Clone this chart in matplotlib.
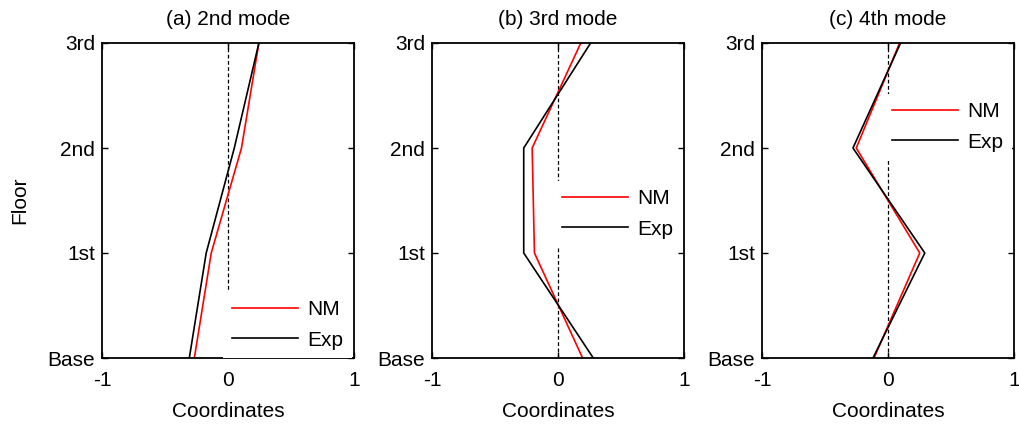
import matplotlib.pyplot as plt

plt.rcParams["font.family"] = ["Liberation Sans", "DejaVu Sans"]
plt.rcParams["font.size"] = 15

floors = [0, 1, 2, 3]
floor_labels = ["Base", "1st", "2nd", "3rd"]
titles = ["(a) 2nd mode", "(b) 3rd mode", "(c) 4th mode"]

# mode shape coordinates, Base -> 3rd
nm_2nd = [-0.267, -0.133, 0.107, 0.245]
exp_2nd = [-0.307, -0.173, 0.05, 0.245]
nm_3rd = [0.195, -0.187, -0.205, 0.181]
exp_3rd = [0.28, -0.272, -0.272, 0.259]
nm_4th = [-0.111, 0.252, -0.252, 0.092]
exp_4th = [-0.119, 0.292, -0.278, 0.1]

# legend anchor (lower right corner) in axes fraction
legend_anchor = [(0.992, 0.0), (0.992, 0.352), (0.992, 0.629)]

fig = plt.figure(figsize=(10.19, 4.26), dpi=100)
lefts = [102, 432, 762]
axes = [fig.add_axes([l / 1019, 1 - 358 / 426, 252 / 1019, 315 / 426]) for l in lefts]

data = [(nm_2nd, exp_2nd), (nm_3rd, exp_3rd), (nm_4th, exp_4th)]
for i, ax in enumerate(axes):
    nm, exp = data[i]
    ax.plot([0, 0], [0, 3], "k--", lw=0.9, dashes=(3, 2))
    ax.plot(nm, floors, color="#ff0000", lw=1.2, label="NM")
    ax.plot(exp, floors, color="black", lw=1.2, label="Exp")
    ax.set_xlim(-1, 1)
    ax.set_ylim(0, 3)
    ax.set_xticks([-1, 0, 1])
    ax.set_xticklabels(["-1", "0", "1"])
    ax.set_yticks(floors)
    ax.set_yticklabels(floor_labels)
    ax.tick_params(direction="in", length=4, width=1, top=True, right=True,
                   labelsize=15, pad=5)
    ax.tick_params(axis="x", pad=9)
    for s in ax.spines.values():
        s.set_linewidth(1.3)
    ax.set_title(titles[i], fontsize=15, pad=13)
    ax.set_xlabel("Coordinates", fontsize=15, labelpad=9)
    leg = ax.legend(loc="lower right", bbox_to_anchor=legend_anchor[i],
                    borderaxespad=0, frameon=True, fancybox=False,
                    handlelength=3.2, handletextpad=0.45, labelspacing=0.55,
                    borderpad=0.4, fontsize=15)
    leg.get_frame().set_edgecolor("none")
    leg.get_frame().set_facecolor("white")
    leg.get_frame().set_alpha(1)
    leg.set_zorder(10)

axes[0].set_ylabel("Floor", fontsize=15, labelpad=13)

fig.savefig("out.png", dpi=100)
